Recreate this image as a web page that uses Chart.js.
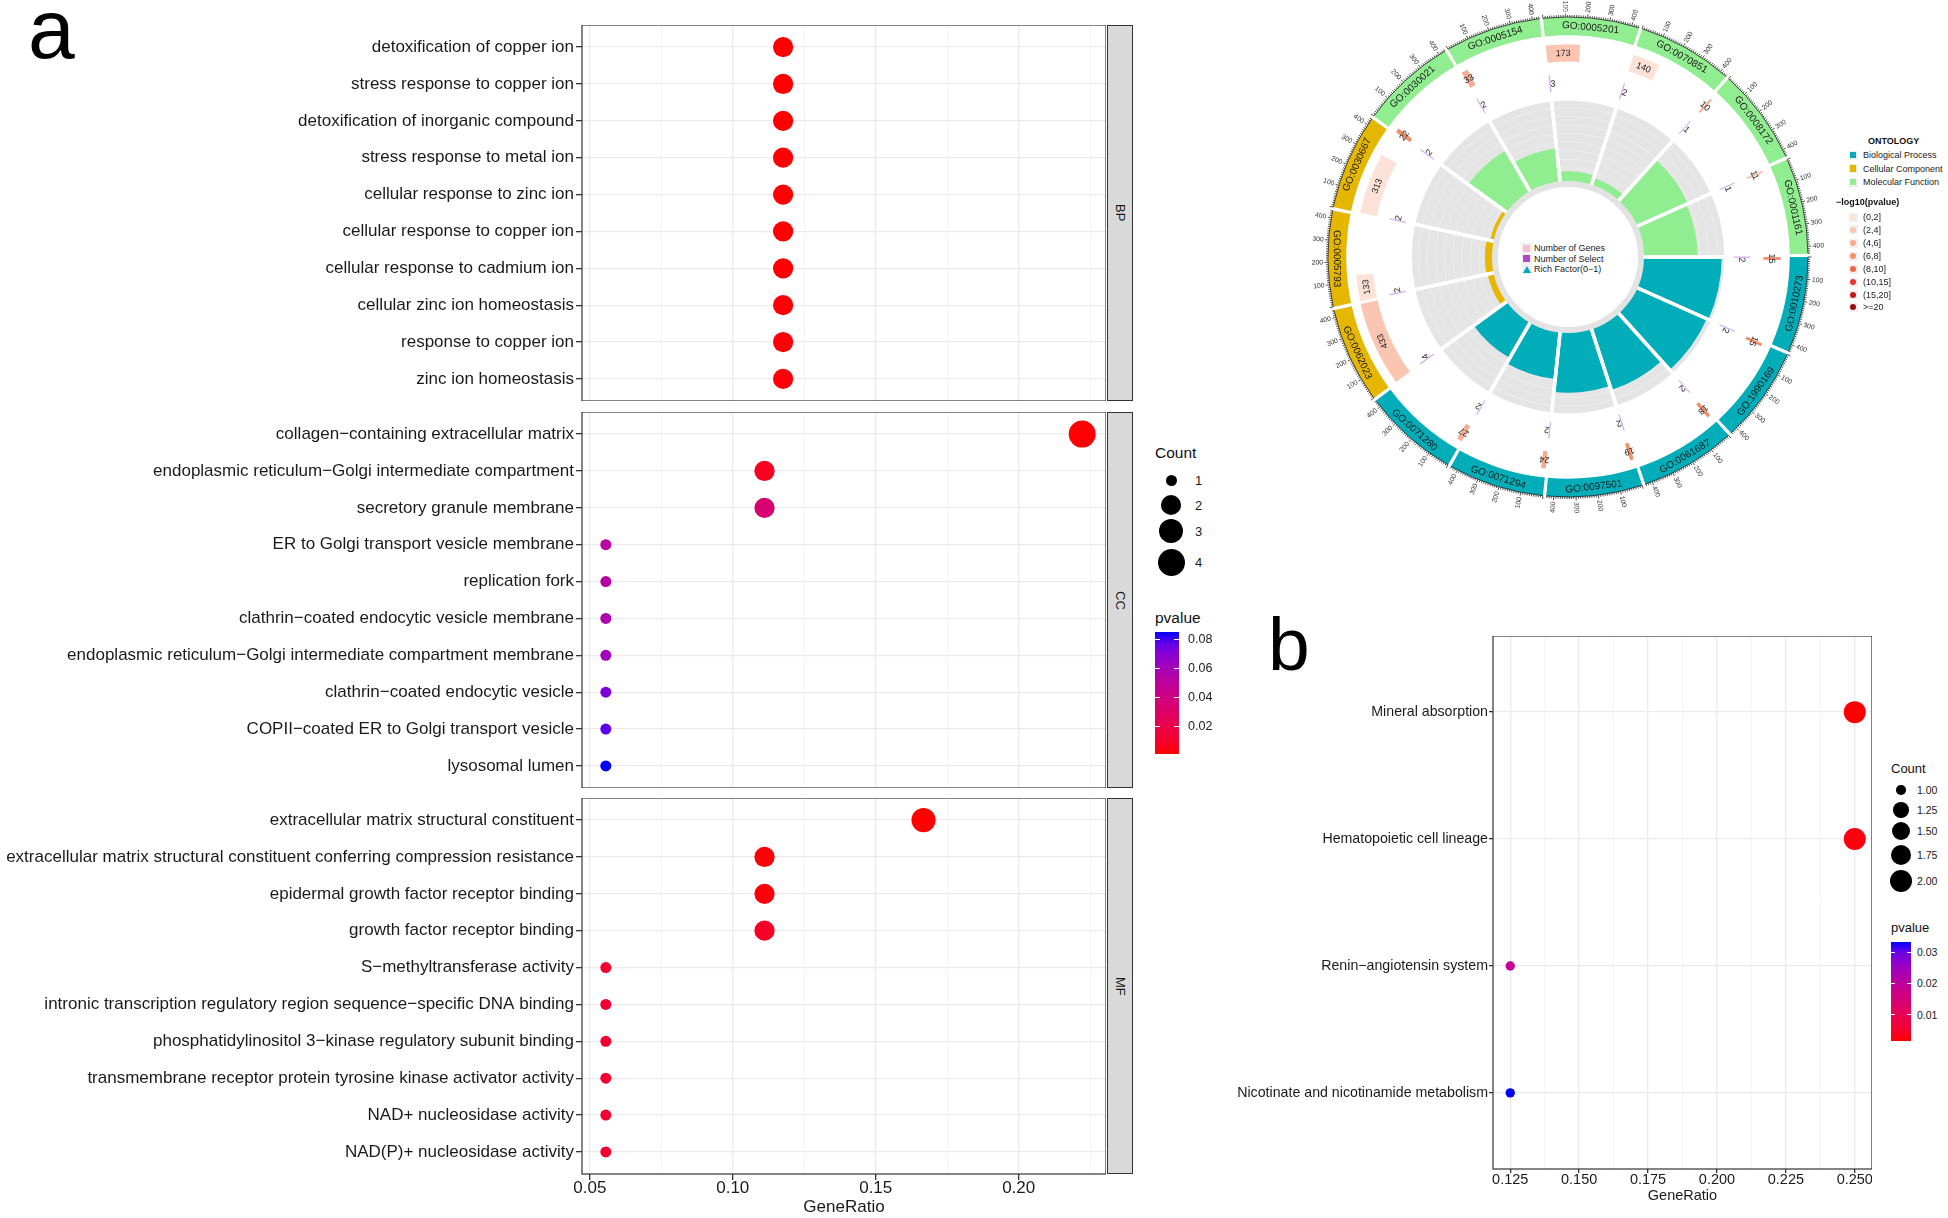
<!DOCTYPE html>
<html>
<head>
<meta charset="utf-8">
<script src="https://cdn.jsdelivr.net/npm/chart.js@4.4.1/dist/chart.umd.min.js"></script>
<style>
  body { margin: 0; width: 1948px; height: 1218px; position: relative; overflow: hidden; background: #fff;
         font-family: "Liberation Sans", Arial, sans-serif; color: #111; }
  canvas { position: absolute; }
  .lab { position: absolute; transform: translateY(-50%); white-space: nowrap; line-height: 1; }
  .box { position: absolute; }
  .strip { position: absolute; background: #d9d9d9; border: 1px solid #333; display: flex;
           align-items: center; justify-content: center; writing-mode: vertical-rl; font-size: 13px; color: #1a1a1a; }
  .big { position: absolute; line-height: 1; color: #000; }
</style>
</head>
<body>
<div class="big" style="left:28px;top:-13px;font-size:84px">a</div>
<div class="big" style="left:1268px;top:607px;font-size:75px">b</div>

<canvas id="bp" width="1106" height="376" style="left:0;top:25px"></canvas>
<canvas id="cc" width="1106" height="376" style="left:0;top:412px"></canvas>
<canvas id="mf" width="1106" height="420" style="left:0;top:798px"></canvas>
<div class="strip" style="left:1107px;top:25px;width:24px;height:374px">BP</div>
<div class="strip" style="left:1107px;top:412px;width:24px;height:374px">CC</div>
<div class="strip" style="left:1107px;top:798px;width:24px;height:374px">MF</div>

<canvas id="kegg" width="672" height="569" style="left:1200px;top:636px"></canvas>

<canvas id="ring" width="560" height="560" style="left:1288px;top:-23px"></canvas>
<canvas id="rich" width="316" height="316" style="left:1410px;top:99px"></canvas>
<div class="box" style="left:1492px;top:181px;width:140px;height:140px;border:6px solid #e3e3e3;border-radius:50%;background:#fff"></div>

<script>
// ---------- panel a : GO dot plot ----------
const bpTerms = ['detoxification of copper ion', 'stress response to copper ion', 'detoxification of inorganic compound',
  'stress response to metal ion', 'cellular response to zinc ion', 'cellular response to copper ion',
  'cellular response to cadmium ion', 'cellular zinc ion homeostasis', 'response to copper ion', 'zinc ion homeostasis'];
const bpRatio = [0.1176, 0.1176, 0.1176, 0.1176, 0.1176, 0.1176, 0.1176, 0.1176, 0.1176, 0.1176];
const bpCount = [2, 2, 2, 2, 2, 2, 2, 2, 2, 2];
const bpPvalue = [0.0010, 0.0010, 0.0012, 0.0013, 0.0014, 0.0015, 0.0016, 0.0018, 0.0020, 0.0022];

const ccTerms = ['collagen−containing extracellular matrix', 'endoplasmic reticulum−Golgi intermediate compartment',
  'secretory granule membrane', 'ER to Golgi transport vesicle membrane', 'replication fork',
  'clathrin−coated endocytic vesicle membrane', 'endoplasmic reticulum−Golgi intermediate compartment membrane',
  'clathrin−coated endocytic vesicle', 'COPII−coated ER to Golgi transport vesicle', 'lysosomal lumen'];
const ccRatio = [0.2222, 0.1111, 0.1111, 0.0556, 0.0556, 0.0556, 0.0556, 0.0556, 0.0556, 0.0556];
const ccCount = [4, 2, 2, 1, 1, 1, 1, 1, 1, 1];
const ccPvalue = [0.0015, 0.0070, 0.0340, 0.0514, 0.0530, 0.0564, 0.0615, 0.0724, 0.0783, 0.0850];

const mfTerms = ['extracellular matrix structural constituent',
  'extracellular matrix structural constituent conferring compression resistance',
  'epidermal growth factor receptor binding', 'growth factor receptor binding', 'S−methyltransferase activity',
  'intronic transcription regulatory region sequence−specific DNA binding',
  'phosphatidylinositol 3−kinase regulatory subunit binding',
  'transmembrane receptor protein tyrosine kinase activator activity', 'NAD+ nucleosidase activity',
  'NAD(P)+ nucleosidase activity'];
const mfRatio = [0.1667, 0.1111, 0.1111, 0.1111, 0.0556, 0.0556, 0.0556, 0.0556, 0.0556, 0.0556];
const mfCount = [3, 2, 2, 2, 1, 1, 1, 1, 1, 1];
const mfPvalue = [0.0010, 0.0020, 0.0025, 0.0094, 0.0120, 0.0120, 0.0121, 0.0122, 0.0123, 0.0124];

const goMajorTicks = [0.05, 0.10, 0.15, 0.20];
const goMinorTicks = [0.075, 0.125, 0.175, 0.225];
const goCountLegend = [1, 2, 3, 4];
const goPvalueLegend = [0.02, 0.04, 0.06, 0.08];

// ---------- panel b : KEGG dot plot ----------
const keggTerms = ['Mineral absorption', 'Hematopoietic cell lineage', 'Renin−angiotensin system',
  'Nicotinate and nicotinamide metabolism'];
const keggRatio = [0.25, 0.25, 0.125, 0.125];
const keggCount = [2, 2, 1, 1];
const keggPvalue = [0.0016, 0.0024, 0.0190, 0.0332];
const keggMajorTicks = [0.125, 0.150, 0.175, 0.200, 0.225, 0.250];
const keggMinorTicks = [0.1375, 0.1625, 0.1875, 0.2125, 0.2375];
const keggCountLegend = [1.00, 1.25, 1.50, 1.75, 2.00];
const keggPvalueLegend = [0.01, 0.02, 0.03];

// ---------- circular GO plot ----------
const goIds = ['GO:0010273', 'GO:1990169', 'GO:0061687', 'GO:0097501', 'GO:0071294', 'GO:0071280',
  'GO:0062023', 'GO:0005793', 'GO:0030667',
  'GO:0030021', 'GO:0005154', 'GO:0005201', 'GO:0070851', 'GO:0008172', 'GO:0001161'];
const goOntology = ['BP', 'BP', 'BP', 'BP', 'BP', 'BP', 'CC', 'CC', 'CC', 'MF', 'MF', 'MF', 'MF', 'MF', 'MF'];
const goGenes = [15, 15, 18, 19, 24, 27, 433, 133, 313, 22, 33, 173, 140, 10, 11];
const goSelect = [2, 2, 2, 2, 2, 2, 4, 2, 2, 2, 2, 3, 2, 1, 1];
const goLogP = [6.6, 6.6, 6.3, 6.2, 5.8, 5.6, 3.6, 1.6, 1.3, 6.1, 5.3, 3.4, 1.9, 4.5, 3.8];
const goRich = [0.95, 0.93, 0.79, 0.74, 0.59, 0.52, 0.12, 0.13, 0.09, 0.60, 0.43, 0.16, 0.13, 0.69, 0.67];
const axisTicks = [100, 200, 300, 400];
const ontologyNames = ['Biological Process', 'Cellular Component', 'Molecular Function'];
const logPBinEdges = [2, 4, 6, 8, 10, 15, 20];
const logPBinLabels = ['(0,2]', '(2,4]', '(4,6]', '(6,8]', '(8,10]', '(10,15]', '(15,20]', '>=20'];

// ---------- styling ----------
const ontColor = { BP: '#00adb9', CC: '#e6b700', MF: '#90ee90' };
const binColors = ['#fde3d7', '#fac6b1', '#f7ab90', '#f48f6d', '#f1654b', '#e2392d', '#c5161c', '#960d13'];
const CLEAR = 'rgba(0,0,0,0)';
const SECTOR_LEN = 433, GAP_LEN = 15;

Chart.defaults.font.family = '"Liberation Sans", Arial, sans-serif';
Chart.defaults.color = '#111';
Chart.defaults.animation = false;
Chart.defaults.plugins.legend.display = false;
Chart.defaults.plugins.tooltip.enabled = false;

// red -> blue in Lab, like ggplot's gradient
function lin(c) { c /= 255; return c <= 0.04045 ? c / 12.92 : Math.pow((c + 0.055) / 1.055, 2.4); }
function toLab(rgb) {
  const [R, G, B] = rgb.map(lin);
  const X = (0.4124 * R + 0.3576 * G + 0.1805 * B) / 0.95047;
  const Y = 0.2126 * R + 0.7152 * G + 0.0722 * B;
  const Z = (0.0193 * R + 0.1192 * G + 0.9505 * B) / 1.08883;
  const f = t => t > 0.008856 ? Math.cbrt(t) : 7.787 * t + 16 / 116;
  return [116 * f(Y) - 16, 500 * (f(X) - f(Y)), 200 * (f(Y) - f(Z))];
}
function fromLab([L, a, b]) {
  const fy = (L + 16) / 116, fx = fy + a / 500, fz = fy - b / 200;
  const inv = t => t * t * t > 0.008856 ? t * t * t : (t - 16 / 116) / 7.787;
  const X = inv(fx) * 0.95047, Y = inv(fy), Z = inv(fz) * 1.08883;
  const g = c => { c = Math.max(0, Math.min(1, c)); return Math.round(255 * (c <= 0.0031308 ? 12.92 * c : 1.055 * Math.pow(c, 1 / 2.4) - 0.055)); };
  return `rgb(${g(3.2406 * X - 1.5372 * Y - 0.4986 * Z)},${g(-0.9689 * X + 1.8758 * Y + 0.0415 * Z)},${g(0.0557 * X - 0.2040 * Y + 1.0570 * Z)})`;
}
const LAB_LO = toLab([255, 0, 0]), LAB_HI = toLab([0, 0, 255]);
function pColor(p, lo, hi) {
  const t = Math.max(0, Math.min(1, (p - lo) / (hi - lo)));
  return fromLab(LAB_LO.map((v, k) => v + (LAB_HI[k] - v) * t));
}
function sizeScale(c, cMin, cMax, rMin, rMax) {
  return rMin + (rMax - rMin) * Math.sqrt((c - cMin) / (cMax - cMin));
}
function expand(vals) {
  const lo = Math.min(...vals), hi = Math.max(...vals), pad = (hi - lo) * 0.05;
  return [lo - pad, hi + pad];
}

const panelFrame = {
  id: 'panelFrame',
  afterDraw(chart) {
    const { ctx, chartArea: a } = chart;
    ctx.save();
    ctx.strokeStyle = '#333';
    ctx.lineWidth = 1.2;
    ctx.strokeRect(a.left, a.top, a.right - a.left, a.bottom - a.top);
    ctx.restore();
  }
};

function dotChart(id, terms, ratio, count, pvalue, cfg) {
  const ticks = [...cfg.major, ...cfg.minor].sort((p, q) => p - q);
  const isMajor = v => cfg.major.some(m => Math.abs(m - v) < 1e-9);
  return new Chart(document.getElementById(id), {
    type: 'bubble',
    data: {
      datasets: [{
        data: terms.map((t, i) => ({ x: ratio[i], y: i, r: cfg.size(count[i]) })),
        backgroundColor: pvalue.map(p => pColor(p, cfg.pLo, cfg.pHi)),
        borderWidth: 0,
        hoverBorderWidth: 0
      }]
    },
    options: {
      responsive: false,
      events: [],
      layout: { autoPadding: false, padding: 0 },
      scales: {
        x: {
          type: 'linear', bounds: 'data', min: cfg.xRange[0], max: cfg.xRange[1],
          afterBuildTicks: s => { s.ticks = ticks.map(v => ({ value: v })); },
          afterFit: s => { s.height = cfg.xHeight; s.paddingLeft = 0; s.paddingRight = 0; s.paddingTop = 0; s.paddingBottom = 0; },
          border: { display: false },
          grid: {
            color: c => isMajor(c.tick.value) ? '#ebebeb' : '#f2f2f2',
            lineWidth: c => isMajor(c.tick.value) ? 1.3 : 0.8,
            drawTicks: cfg.showX, tickLength: cfg.tickLen,
            tickColor: c => isMajor(c.tick.value) ? '#333' : CLEAR
          },
          ticks: {
            display: cfg.showX, padding: 0, autoSkip: false, maxRotation: 0, color: '#1a1a1a',
            font: { size: cfg.tickSize, lineHeight: 1 },
            callback: v => isMajor(v) ? v.toFixed(cfg.digits) : ''
          },
          title: {
            display: cfg.showX, text: 'GeneRatio', color: '#1a1a1a',
            font: { size: cfg.tickSize, lineHeight: 1.2 }, padding: 0
          }
        },
        y: {
          type: 'linear', bounds: 'data', min: -0.6, max: terms.length - 0.4, reverse: true,
          afterBuildTicks: s => { s.ticks = terms.map((t, i) => ({ value: i })); },
          afterFit: s => { s.width = cfg.yWidth; s.paddingLeft = 0; s.paddingRight = 0; s.paddingTop = 0; s.paddingBottom = 0; },
          border: { display: false },
          grid: { color: '#ebebeb', lineWidth: 1.3, tickLength: cfg.tickLen, tickColor: '#333' },
          ticks: {
            padding: cfg.labelPad, autoSkip: false, color: '#1a1a1a',
            font: { size: cfg.labelSize }, callback: (v, i) => terms[i]
          }
        }
      }
    },
    plugins: [panelFrame]
  });
}

const goP = [...bpPvalue, ...ccPvalue, ...mfPvalue];
const goC = [...bpCount, ...ccCount, ...mfCount];
const goCfg = {
  major: goMajorTicks, minor: goMinorTicks, digits: 2,
  xRange: expand([...bpRatio, ...ccRatio, ...mfRatio]),
  pLo: Math.min(...goP), pHi: Math.max(...goP),
  size: c => sizeScale(c, Math.min(...goC), Math.max(...goC), 5.5, 13.5),
  yWidth: 582, tickLen: 6, labelPad: 2, labelSize: 17, tickSize: 17, showX: false, xHeight: 0
};
dotChart('bp', bpTerms, bpRatio, bpCount, bpPvalue, goCfg);
dotChart('cc', ccTerms, ccRatio, ccCount, ccPvalue, goCfg);
dotChart('mf', mfTerms, mfRatio, mfCount, mfPvalue, Object.assign({}, goCfg, { showX: true, xHeight: 44 }));

const keggCfg = {
  major: keggMajorTicks, minor: keggMinorTicks, digits: 3,
  xRange: expand(keggRatio),
  pLo: Math.min(...keggPvalue), pHi: Math.max(...keggPvalue),
  size: c => sizeScale(c, Math.min(...keggCount), Math.max(...keggCount), 4.7, 11),
  yWidth: 293, tickLen: 4, labelPad: 1, labelSize: 14.2, tickSize: 14.5, showX: true, xHeight: 36
};
dotChart('kegg', keggTerms, keggRatio, keggCount, keggPvalue, keggCfg);

// ---------- circle ----------
function binColor(v) {
  const k = logPBinEdges.findIndex(e => v <= e);
  return binColors[k < 0 ? binColors.length - 1 : k];
}
const deg = Math.PI / 180;

const circleAnnot = {
  id: 'circleAnnot',
  afterDatasetsDraw(chart) {
    const ctx = chart.ctx;
    const band = chart.getDatasetMeta(0).data;
    const gene = chart.getDatasetMeta(2).data;
    const sel = chart.getDatasetMeta(4).data;
    ctx.save();
    ctx.textBaseline = 'middle';
    goIds.forEach((id, i) => {
      const b = band[2 * i];
      const unit = (b.endAngle - b.startAngle) / SECTOR_LEN;
      const rA = b.outerRadius;
      const px = (a, r) => [b.x + Math.cos(a) * r, b.y + Math.sin(a) * r];
      // axis
      ctx.strokeStyle = '#222';
      ctx.lineWidth = 0.8;
      ctx.beginPath();
      ctx.arc(b.x, b.y, rA, b.startAngle, b.endAngle);
      ctx.stroke();
      for (let u = 0; u <= SECTOR_LEN; u += 10) {
        const a = b.startAngle + u * unit;
        const len = u % 100 === 0 ? 3.5 : 2;
        ctx.beginPath();
        ctx.moveTo(...px(a, rA));
        ctx.lineTo(...px(a, rA + len));
        ctx.stroke();
      }
      ctx.fillStyle = '#333';
      ctx.font = '6.8px "Liberation Sans"';
      axisTicks.forEach(u => {
        const a = b.startAngle + u * unit;
        const right = Math.cos(a) >= 0;
        ctx.save();
        ctx.translate(...px(a, rA + 5));
        ctx.rotate(right ? a : a + Math.PI);
        ctx.textAlign = right ? 'left' : 'right';
        ctx.fillText(String(u), 0, 0);
        ctx.restore();
      });
      // sector name
      const mid = (b.startAngle + b.endAngle) / 2;
      ctx.save();
      ctx.translate(...px(mid, (b.innerRadius + b.outerRadius) / 2));
      ctx.rotate(Math.sin(mid) > 0 ? mid - Math.PI / 2 : mid + Math.PI / 2);
      ctx.textAlign = 'center';
      ctx.fillStyle = '#1a1a1a';
      ctx.font = '10px "Liberation Sans"';
      ctx.fillText(id, 0, 0.5);
      ctx.restore();
      // gene count
      const g = gene[2 * i];
      const gm = (g.startAngle + g.endAngle) / 2;
      ctx.save();
      ctx.translate(...px(gm, (g.innerRadius + g.outerRadius) / 2));
      ctx.rotate(gm + Math.PI / 2);
      ctx.textAlign = 'center';
      ctx.font = '9px "Liberation Sans"';
      ctx.fillStyle = '#222';
      ctx.fillText(String(goGenes[i]), 0, 0.5);
      ctx.restore();
      // selected count
      const s = sel[2 * i];
      const sa = s.endAngle + 0.9 * deg;
      ctx.save();
      ctx.translate(...px(sa, (s.innerRadius + s.outerRadius) / 2));
      ctx.rotate(sa + Math.PI / 2);
      ctx.textAlign = 'center';
      ctx.font = '9px "Liberation Sans"';
      ctx.fillStyle = '#222';
      ctx.fillText(String(goSelect[i]), 0, 0.5);
      ctx.restore();
    });
    ctx.restore();
  }
};

const sectorTotal = SECTOR_LEN + GAP_LEN;
new Chart(document.getElementById('ring'), {
  type: 'doughnut',
  data: {
    labels: goIds.flatMap(id => [id, '']),
    datasets: [
      { data: goIds.flatMap(() => [SECTOR_LEN, GAP_LEN]),
        backgroundColor: goOntology.flatMap(o => [ontColor[o], CLEAR]), borderWidth: 0, weight: 18 },
      { data: [1], backgroundColor: CLEAR, borderWidth: 0, weight: 9 },
      { data: goGenes.flatMap(n => [n, sectorTotal - n]),
        backgroundColor: goLogP.flatMap(v => [binColor(v), CLEAR]), borderWidth: 0, weight: 17 },
      { data: [1], backgroundColor: CLEAR, borderWidth: 0, weight: 13 },
      { data: goSelect.flatMap(n => [n, sectorTotal - n]),
        backgroundColor: goSelect.flatMap(() => ['#cc9ce8', CLEAR]),
        borderColor: goSelect.flatMap(() => ['#d4a8ec', CLEAR]),
        borderWidth: goSelect.flatMap(() => [0.7, 0]), hoverBorderWidth: 0, weight: 16 }
    ]
  },
  options: {
    responsive: false, events: [],
    rotation: 90, circumference: 360, cutout: 166,
    layout: { padding: 40 }
  },
  plugins: [circleAnnot]
});

const RICH_IN = 72, RICH_OUT = 158;
const gridLevels = [0.1, 0.2, 0.3, 0.4, 0.5, 0.6, 0.7, 0.8, 0.9];
new Chart(document.getElementById('rich'), {
  type: 'polarArea',
  data: {
    labels: goIds,
    datasets: [
      { data: goIds.map(() => 1), backgroundColor: CLEAR, borderColor: '#fff', borderWidth: 3.5 },
      { data: goRich, backgroundColor: goOntology.map(o => ontColor[o]), borderWidth: 0 },
      ...gridLevels.map(v => ({ data: goIds.map(() => v), backgroundColor: CLEAR, borderColor: '#ededed', borderWidth: 0.8 })),
      { data: goIds.map(() => 1), backgroundColor: '#e5e5e5', borderWidth: 0 }
    ]
  },
  options: {
    responsive: false, events: [],
    layout: { autoPadding: false, padding: 0 },
    scales: {
      r: {
        startAngle: 90,
        min: -RICH_IN / (RICH_OUT - RICH_IN), max: 1,
        grid: { display: false }, angleLines: { display: false },
        ticks: { display: false }, pointLabels: { display: false }
      }
    }
  }
});

// ---------- legends (html) ----------
function put(text, x, y, css) {
  const d = document.createElement('div');
  d.className = 'lab';
  d.textContent = text;
  d.style.left = x + 'px';
  d.style.top = y + 'px';
  Object.assign(d.style, css || {});
  document.body.appendChild(d);
  return d;
}
function blob(x, y, w, h, css) {
  const d = document.createElement('div');
  d.className = 'box';
  Object.assign(d.style, { left: (x - w / 2) + 'px', top: (y - h / 2) + 'px', width: w + 'px', height: h + 'px' }, css);
  document.body.appendChild(d);
  return d;
}
function colorbar(x, top, bottom, w, lo, hi, ticks, labelX, fontSize) {
  const stops = [];
  for (let k = 0; k <= 10; k++) stops.push(pColor(lo + (hi - lo) * k / 10, lo, hi) + ' ' + (k * 10) + '%');
  blob(x + w / 2, (top + bottom) / 2, w, bottom - top, { background: `linear-gradient(to top, ${stops.join(',')})` });
  ticks.forEach(v => {
    const y = bottom - (v - lo) / (hi - lo) * (bottom - top);
    blob(x + w * 0.1, y, w * 0.2, 1, { background: '#fff' });
    blob(x + w * 0.9, y, w * 0.2, 1, { background: '#fff' });
    put(v.toFixed(2), labelX, y, { fontSize: fontSize + 'px', color: '#1a1a1a' });
  });
}

// panel a legend
put('Count', 1155, 453, { fontSize: '15.5px' });
[480, 505, 531, 562].forEach((y, k) => {
  const r = goCfg.size(goCountLegend[k]);
  blob(1171, y, 2 * r, 2 * r, { background: '#000', borderRadius: '50%' });
  put(String(goCountLegend[k]), 1195, y, { fontSize: '13px', color: '#1a1a1a' });
});
put('pvalue', 1155, 618, { fontSize: '15.5px' });
colorbar(1155, 632, 754, 24, goCfg.pLo, goCfg.pHi, goPvalueLegend, 1188, 12.5);

// panel b legend
put('Count', 1891, 768, { fontSize: '13px' });
[790, 810, 831, 855, 881].forEach((y, k) => {
  const r = keggCfg.size(keggCountLegend[k]);
  blob(1901, y, 2 * r, 2 * r, { background: '#000', borderRadius: '50%' });
  put(keggCountLegend[k].toFixed(2), 1917, y, { fontSize: '10.5px', color: '#1a1a1a' });
});
put('pvalue', 1891, 927, { fontSize: '13px' });
colorbar(1891, 942, 1041, 20, keggCfg.pLo, keggCfg.pHi, keggPvalueLegend, 1917, 10.5);

// circle centre legend
const centreKeys = [['Number of Genes', '#fbc0cb', 'sq'], ['Number of Select', '#b048c8', 'sq'], ['Rich Factor(0−1)', '#00a9b6', 'tri']];
[248, 258.5, 269].forEach((y, k) => {
  const [txt, col, shape] = centreKeys[k];
  blob(1526.5, y, 10, 10, { background: '#f0f0f0' });
  if (shape === 'sq') blob(1526.5, y, 7, 7, { background: col });
  else blob(1526.5, y, 0, 0, { borderLeft: '4px solid transparent', borderRight: '4px solid transparent', borderBottom: '7px solid ' + col, width: '0', height: '0', left: '1522.5px', top: (y - 3.5) + 'px' });
  put(txt, 1534, y, { fontSize: '9px', color: '#1a1a1a' });
});

// circle right legend
put('ONTOLOGY', 1868, 141, { fontSize: '9px', fontWeight: 'bold' });
['BP', 'CC', 'MF'].forEach((o, k) => {
  const y = [155, 168.5, 182][k];
  blob(1853, y, 9, 9, { background: '#f0f0f0' });
  blob(1853, y, 6.5, 6.5, { background: ontColor[o] });
  put(ontologyNames[k], 1863, y, { fontSize: '9px', color: '#1a1a1a' });
});
put('−log10(pvalue)', 1836, 202, { fontSize: '9px', fontWeight: 'bold' });
[217, 229.5, 243, 256, 269, 282, 294.5, 307].forEach((y, k) => {
  blob(1853, y, 9, 9, { background: '#f0f0f0' });
  blob(1853, y, 6, 6, { background: binColors[k], borderRadius: '50%' });
  put(logPBinLabels[k], 1863, y, { fontSize: '9px', color: '#1a1a1a' });
});
</script>
</body>
</html>
